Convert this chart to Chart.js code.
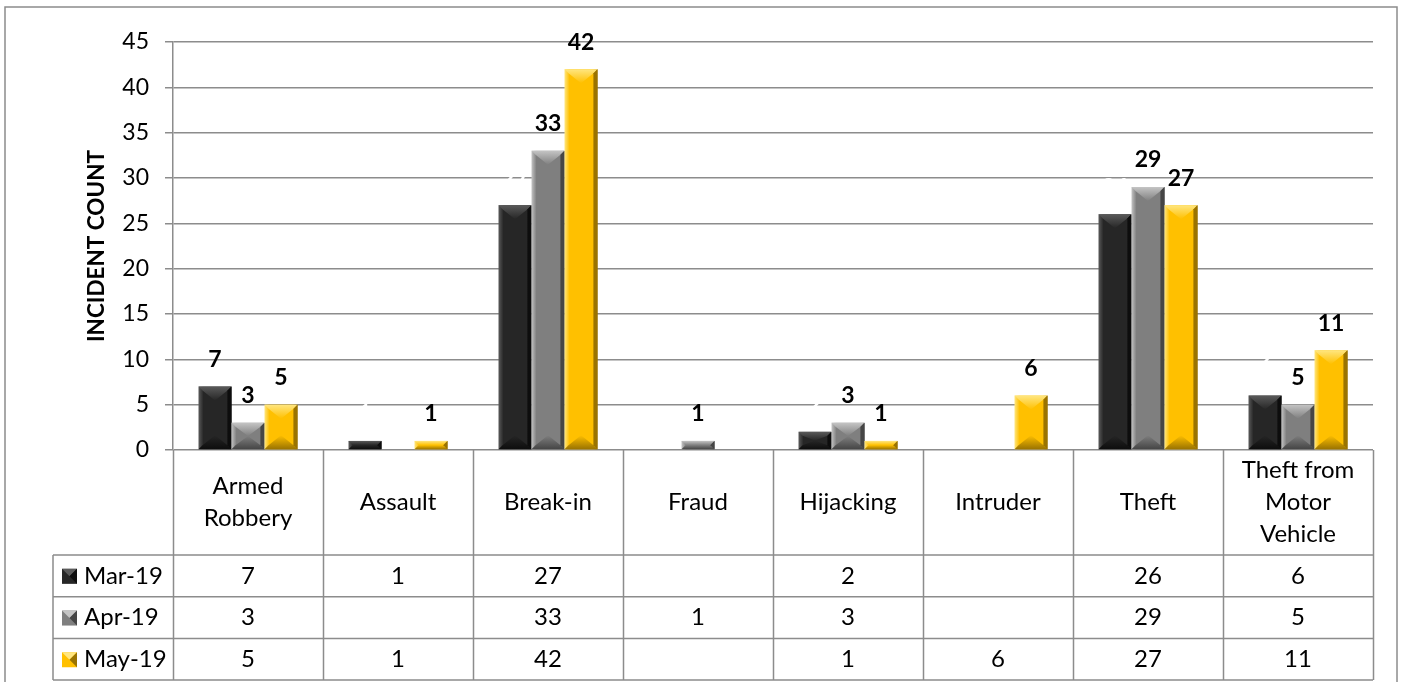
<!DOCTYPE html>
<html>
<head>
<meta charset="utf-8">
<script src="https://cdn.jsdelivr.net/npm/chart.js@4.4.1/dist/chart.umd.min.js"></script>
<style>
html,body{margin:0;padding:0;background:#fff;}
#wrap{width:1405px;height:682px;position:relative;}
</style>
</head>
<body>
<div id="wrap"><canvas id="c" width="1405" height="682"></canvas></div>
<script>
const categories = ["Armed Robbery","Assault","Break-in","Fraud","Hijacking","Intruder","Theft","Theft from Motor Vehicle"];
const categoryLines = [["Armed","Robbery"],["Assault"],["Break-in"],["Fraud"],["Hijacking"],["Intruder"],["Theft"],["Theft from","Motor","Vehicle"]];
const seriesNames = ["Mar-19","Apr-19","May-19"];
const mar19 = [7,1,27,null,2,null,26,6];
const apr19 = [3,null,33,1,3,null,29,5];
const may19 = [5,1,42,null,1,6,27,11];
const yTicks = [0,5,10,15,20,25,30,35,40,45];

const FONT = "Lato, 'Open Sans', sans-serif";
const baseColors = ["#262626","#7f7f7f","#ffc000"];
const lightColors = ["#5a5a5a","#c4c4c4","#ffe680"];
const darkColors = ["#0d0d0d","#454545","#9a7300"];
const labelColors = [
  ["#000","#fff","#fff","#fff","#fff","#fff","#fff","#fff"],
  "#000","#000"
];

function shade(ctx, pts, fill){
  ctx.beginPath(); ctx.moveTo(pts[0][0],pts[0][1]);
  for(let i=1;i<pts.length;i++) ctx.lineTo(pts[i][0],pts[i][1]);
  ctx.closePath(); ctx.fillStyle=fill; ctx.fill();
}

const bevelPlugin = {
  id:'bevel',
  afterDatasetsDraw(chart){
    const ctx=chart.ctx;
    chart.data.datasets.forEach((ds,di)=>{
      const meta=chart.getDatasetMeta(di);
      meta.data.forEach((bar,i)=>{
        if(ds.data[i]==null) return;
        const p=bar.getProps(['x','y','base','width'],true);
        const x0=p.x-p.width/2, x1=p.x+p.width/2, y0=p.y, y1=p.base;
        const w=x1-x0, h=y1-y0; if(h<=0) return;
        const cx=(x0+x1)/2;
        const d=Math.min(w*0.45, h/2, 14);
        const s=Math.min(4, w/5, h/2);
        ctx.save();
        const g=ctx.createLinearGradient(x0,0,x1,0);
        g.addColorStop(0,lightColors[di]); g.addColorStop(0.15,baseColors[di]);
        g.addColorStop(0.85,baseColors[di]); g.addColorStop(1,darkColors[di]);
        ctx.fillStyle=g; ctx.fillRect(x0,y0,w,h);
        const gt=ctx.createLinearGradient(0,y0,0,y0+d);
        gt.addColorStop(0,lightColors[di]); gt.addColorStop(1,baseColors[di]);
        shade(ctx,[[x0,y0],[x1,y0],[x1-s,y0+s],[cx,y0+d],[x0+s,y0+s]],gt);
        const gb=ctx.createLinearGradient(0,y1-d,0,y1);
        gb.addColorStop(0,baseColors[di]); gb.addColorStop(1,darkColors[di]);
        shade(ctx,[[x0,y1],[x1,y1],[x1-s,y1-s],[cx,y1-d],[x0+s,y1-s]],gb);
        shade(ctx,[[x1,y0],[x1,y1],[x1-s,y1-s],[x1-s,y0+s]],darkColors[di]);
        ctx.restore();
        const col = Array.isArray(labelColors[di]) ? labelColors[di][i] : labelColors[di];
        ctx.save();
        ctx.font="bold 23px "+FONT; ctx.fillStyle=col;
        ctx.textAlign='center'; ctx.textBaseline='middle';
        ctx.fillText(String(ds.data[i]), p.x, y0-27);
        ctx.restore();
      });
    });
  }
};

const tablePlugin = {
  id:'table',
  afterDraw(chart){
    const ctx=chart.ctx, xs=chart.scales.x, area=chart.chartArea;
    const n=categories.length;
    const colW=(area.right-area.left)/n;
    const yHead=area.bottom, yRow1=555, rowH=41.7;
    const yEnd=yRow1+rowH*3;
    const legL=53;
    ctx.save();
    ctx.strokeStyle="#8c8c8c"; ctx.lineWidth=1.5;
    ctx.strokeRect(5,7,1392,700);
    ctx.beginPath();
    for(let i=0;i<=n;i++){
      const x=Math.round(area.left+colW*i)+0.5;
      ctx.moveTo(x,yHead); ctx.lineTo(x,yEnd);
    }
    ctx.moveTo(legL,yRow1); ctx.lineTo(legL,yEnd);
    for(let r=0;r<=3;r++){
      const y=yRow1+rowH*r;
      ctx.moveTo(legL,y); ctx.lineTo(area.right,y);
    }
    ctx.stroke();
    ctx.fillStyle="#000"; ctx.font="24px "+FONT;
    ctx.textAlign='center'; ctx.textBaseline='middle';
    categoryLines.forEach((lines,i)=>{
      const cx=xs.getPixelForValue(i);
      const mid=(yHead+yRow1)/2;
      const lh=32;
      lines.forEach((t,k)=>{
        ctx.fillText(t,cx,mid+(k-(lines.length-1)/2)*lh);
      });
    });
    const rows=[mar19,apr19,may19];
    rows.forEach((vals,r)=>{
      const cy=yRow1+rowH*r+rowH/2;
      vals.forEach((v,i)=>{
        if(v==null) return;
        ctx.fillStyle="#000"; ctx.textAlign='center';
        ctx.fillText(String(v), xs.getPixelForValue(i), cy);
      });
      const sx=62, sy=cy-7, sz=15;
      const di=r;
      ctx.fillStyle=baseColors[di]; ctx.fillRect(sx,sy,sz,sz);
      shade(ctx,[[sx,sy],[sx+sz,sy],[sx+sz/2,sy+sz/2]],lightColors[di]);
      shade(ctx,[[sx+sz,sy],[sx+sz,sy+sz],[sx+sz/2,sy+sz/2]],darkColors[di]);
      ctx.fillStyle="#000"; ctx.textAlign='left';
      ctx.fillText(seriesNames[r], 84, cy);
    });
    ctx.save();
    ctx.translate(97, area.top+(area.bottom-area.top)/2);
    ctx.rotate(-Math.PI/2);
    ctx.font="bold 22.5px "+FONT; ctx.textAlign='center'; ctx.textBaseline='middle';
    ctx.fillStyle="#000";
    ctx.fillText("INCIDENT COUNT",0,0);
    ctx.restore();
    ctx.restore();
  }
};

new Chart(document.getElementById('c'),{
  type:'bar',
  data:{
    labels:categories,
    datasets:[
      {label:seriesNames[0],data:mar19,backgroundColor:'rgba(0,0,0,0)'},
      {label:seriesNames[1],data:apr19,backgroundColor:'rgba(0,0,0,0)'},
      {label:seriesNames[2],data:may19,backgroundColor:'rgba(0,0,0,0)'}
    ]
  },
  options:{
    responsive:false, animation:false,
    devicePixelRatio:1,
    layout:{padding:{left:0,top:42,right:32,bottom:232}},
    plugins:{legend:{display:false},tooltip:{enabled:false}},
    datasets:{bar:{categoryPercentage:0.66,barPercentage:1,borderWidth:0}},
    scales:{
      x:{display:false},
      y:{
        min:0,max:45,
        afterFit(s){s.width=173;},
        afterBuildTicks(s){s.ticks=yTicks.map(v=>({value:v}));},
        ticks:{font:{family:FONT,size:23},color:'#000',padding:16},
        grid:{color:'#8c8c8c',lineWidth:1.5,tickLength:8},
        border:{display:true,color:'#8c8c8c',width:1.5}
      }
    }
  },
  plugins:[bevelPlugin,tablePlugin]
});
</script>
</body>
</html>
